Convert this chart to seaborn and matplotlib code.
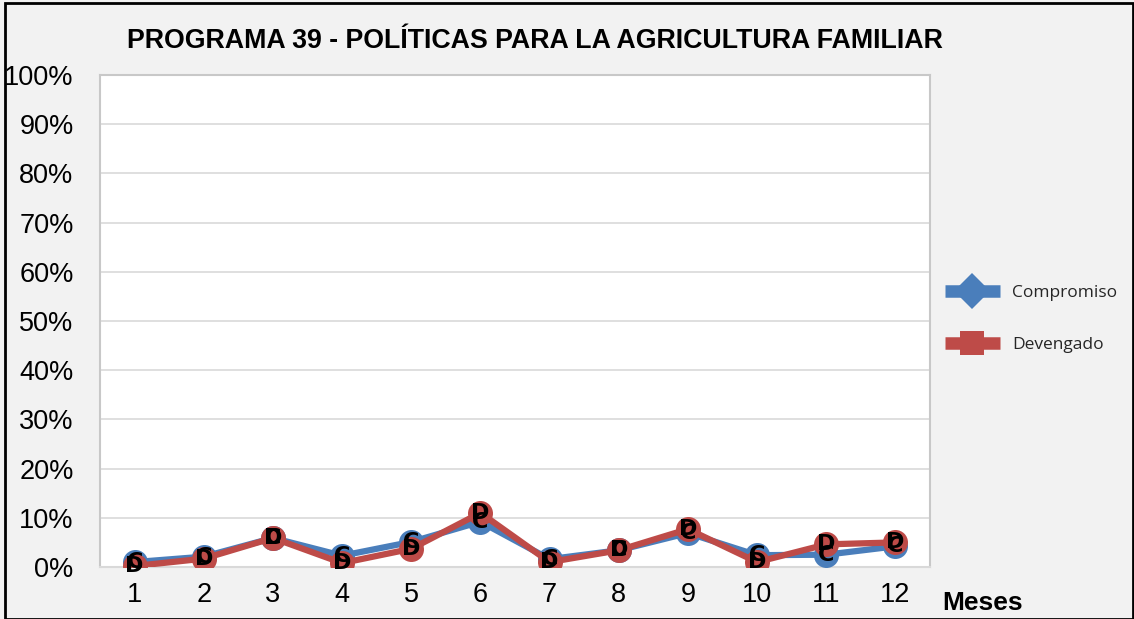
import matplotlib
matplotlib.use("Agg")
import matplotlib.pyplot as plt
import seaborn as sns
import pandas as pd
from matplotlib.lines import Line2D
from matplotlib.patches import Rectangle

meses = [1, 2, 3, 4, 5, 6, 7, 8, 9, 10, 11, 12]
compromiso = [1.0, 2.1, 5.9, 2.3, 5.1, 9.2, 1.6, 3.4, 6.9, 2.4, 2.5, 4.2]
devengado = [0.2, 1.7, 5.9, 0.8, 3.7, 11.0, 1.0, 3.4, 7.7, 1.0, 4.6, 5.0]
series_names = ["Compromiso", "Devengado"]
series_labels = ["C", "D"]
yticks = [0, 10, 20, 30, 40, 50, 60, 70, 80, 90, 100]
title = "PROGRAMA 39 - POLÍTICAS PARA LA AGRICULTURA FAMILIAR"
xlabel = "Meses"

sns.set_theme(style="white")
plt.rcParams['font.family'] = ['Liberation Sans', 'DejaVu Sans']

colors = ["#4a7ebb", "#be4b48"]

fig = plt.figure(figsize=(11.34, 6.19), dpi=100)
fig.patch.set_facecolor("#f2f2f2")
W, H = 1134, 619
ax = fig.add_axes([100 / W, 1 - 567 / H, 830 / W, (567 - 75) / H])
ax.set_facecolor("white")

pos = list(range(len(meses)))
df = pd.DataFrame({
    "pos": pos * 2,
    "valor": compromiso + devengado,
    "serie": [series_names[0]] * len(meses) + [series_names[1]] * len(meses),
})

for i, name in enumerate(series_names):
    sub = df[df["serie"] == name]
    sns.lineplot(data=sub, x="pos", y="valor", ax=ax, color=colors[i], linewidth=4.5,
                 marker="o", markersize=18, markeredgewidth=0, legend=False, zorder=3 + i)
    for x, y in zip(sub["pos"], sub["valor"]):
        ax.text(x, y, series_labels[i], ha="center", va="center", fontsize=16,
                fontweight="bold", color="black", zorder=10 + i,
                family=['DejaVu Sans'])

ax.set_xlim(-0.5, len(meses) - 0.5)
ax.set_ylim(0, 100)
ax.set_yticks(yticks)
ax.set_yticklabels([f"{v}%" for v in yticks], fontsize=19.5)
ax.set_xticks(pos)
ax.set_xticklabels([str(m) for m in meses], fontsize=19.5)
ax.set_xticks([p - 0.5 for p in pos] + [len(meses) - 0.5], minor=True)
ax.tick_params(axis="x", which="major", length=0, pad=11, colors="black")
ax.tick_params(axis="x", which="minor", length=9, width=1.2, color="#d9d9d9", direction="out")
ax.tick_params(axis="y", length=0, pad=19, colors="black")
ax.set_xlabel("")
ax.set_ylabel("")
ax.grid(axis="y", color="#d9d9d9", linewidth=1.2)
ax.set_axisbelow(True)
for s in ["left", "right", "top"]:
    ax.spines[s].set_color("#c8c8c8")
    ax.spines[s].set_linewidth(1.5)
ax.spines["bottom"].set_color("#d9d9d9")
ax.spines["bottom"].set_linewidth(1.5)

fig.text(535 / W, 1 - 41 / H, title, ha="center", va="center", fontsize=19.3,
         fontweight="bold", color="black")
fig.text(942 / W, 1 - 603 / H, xlabel, ha="left", va="center", fontsize=19,
         fontweight="bold", color="black")

handles = [
    Line2D([], [], color=colors[0], linewidth=9, marker="D", markersize=18, markeredgewidth=0,
           solid_capstyle="butt"),
    Line2D([], [], color=colors[1], linewidth=9, marker="s", markersize=17, markeredgewidth=0,
           solid_capstyle="butt"),
]
leg = fig.legend(handles, series_names, loc="center left", bbox_to_anchor=(929 / W, 1 - 319 / H),
                 frameon=False, handlelength=3.2, labelspacing=2.1, handletextpad=0.7,
                 prop={"family": ["Open Sans", "DejaVu Sans"], "size": 12.5})

fig.add_artist(Rectangle((5 / W, 0), 1 - 6 / W, 1 - 3 / H, transform=fig.transFigure,
                         fill=False, edgecolor="black", linewidth=2))

fig.savefig("out.png", dpi=100, facecolor=fig.get_facecolor())
